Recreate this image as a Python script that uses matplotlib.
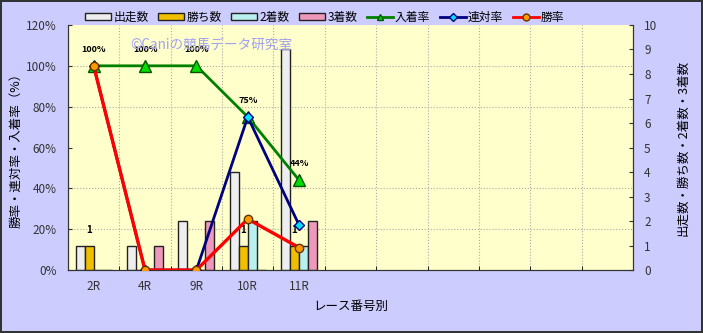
import numpy as np
import matplotlib.pyplot as plt
from matplotlib.patches import Patch
from matplotlib.lines import Line2D
from matplotlib.ticker import FixedLocator

plt.rcParams['font.family'] = ['Noto Sans CJK JP', 'DejaVu Sans']

# Data
races = ['2R', '4R', '9R', '10R', '11R']
n_slots = 11
starts = [1, 1, 2, 4, 9]      # 出走数
wins = [1, 0, 0, 1, 1]        # 勝ち数
seconds = [0, 0, 0, 2, 1]     # 2着数
thirds = [0, 1, 2, 0, 2]      # 3着数
place_rate = [100, 100, 100, 75, 44]   # 入着率
quinella_rate = [100, 0, 0, 75, 22]    # 連対率
win_rate = [100, 0, 0, 25, 11]         # 勝率

bg = '#CCCCFF'
fig = plt.figure(figsize=(7.03, 3.33), dpi=100, facecolor=bg,
                 edgecolor='#333333', linewidth=1.5)
axc = fig.add_axes([0.0967, 0.189, 0.8037, 0.736])
axp = axc.twinx()
axp.set_zorder(axc.get_zorder() + 1)
axp.patch.set_visible(False)
axc.set_facecolor('#FFFFCC')

x = np.arange(len(races))
w = 0.175
bar_specs = [
    (starts, '#EEEEEE', '出走数'),
    (wins, '#F0C000', '勝ち数'),
    (seconds, '#BBF0F0', '2着数'),
    (thirds, '#EE99BB', '3着数'),
]
for i, (vals, col, lab) in enumerate(bar_specs):
    axc.bar(x + (i - 1.5) * w, vals, width=w, color=col, edgecolor='#222222',
            linewidth=1.0, zorder=3, label=lab)

# labels above win bars
for xi, v in zip(x, wins):
    if v > 0:
        axc.text(xi - 0.5 * w, v + 0.45, str(v), ha='center', va='bottom',
                 fontsize=7, fontweight='bold')

axc.set_xlim(-0.5, n_slots - 0.5)
axc.set_ylim(0, 10)
axc.set_yticks(range(0, 11))
axc.yaxis.tick_right()
axc.yaxis.set_label_position('right')
axc.set_xticks(np.arange(n_slots))
axc.set_xticklabels(races + [''] * (n_slots - len(races)))
axc.xaxis.set_minor_locator(FixedLocator(np.arange(-0.5, n_slots, 1)))
axc.yaxis.set_minor_locator(FixedLocator(np.linspace(0, 10, 7)))
axc.grid(which='minor', color='#AAAAAA', linestyle=':', linewidth=0.8, zorder=0)
axc.set_axisbelow(True)
axc.tick_params(axis='x', which='major', length=0, pad=7)
axc.tick_params(axis='x', which='minor', length=3, direction='in')
axc.tick_params(axis='y', which='minor', length=0)
axc.tick_params(axis='y', which='major', direction='in', length=3, pad=8)
axc.tick_params(labelsize=8.5, labelcolor='#333333', colors='#333333')
axc.set_ylabel('出走数・勝ち数・2着数・3着数', fontsize=9, rotation=90, labelpad=14)
axc.set_xlabel('レース番号別', fontsize=9, labelpad=5)

# rate lines
axp.plot(x, place_rate, color='#008000', lw=2, marker='^', ms=8,
         mfc='#00DD00', mec='#005500', label='入着率', zorder=4)
axp.plot(x, quinella_rate, color='#000080', lw=2, marker='D', ms=5,
         mfc='#00E0FF', mec='#000080', label='連対率', zorder=5)
axp.plot(x, win_rate, color='#FF0000', lw=2.4, marker='o', ms=6,
         mfc='#FF9900', mec='#663300', label='勝率', zorder=6)
for xi, v in zip(x, place_rate):
    axp.text(xi, v + 6, f'{v}%', ha='center', va='bottom', fontsize=6.5,
             fontweight='bold')

axp.set_ylim(0, 120)
axp.set_yticks(range(0, 121, 20))
axp.set_yticklabels([f'{v}%' for v in range(0, 121, 20)])
axp.yaxis.tick_left()
axp.yaxis.set_label_position('left')
axp.tick_params(axis='y', direction='in', length=3, pad=8, labelsize=8.5,
                labelcolor='#333333', colors='#333333')
axp.set_ylabel('勝率・連対率・入着率（%）', fontsize=9, labelpad=3)

for a in (axc, axp):
    for s in a.spines.values():
        s.set_color('#333333')
    a.spines['top'].set_visible(False)

# watermark
fig.text(0.185, 0.865, '©Caniの競馬データ研究室', color='#A0A0F0', fontsize=9.8,
         va='center')

handles = [Patch(facecolor=c, edgecolor='#222222', label=l) for _, c, l in bar_specs]
handles += [
    Line2D([], [], color='#008000', lw=2, marker='^', ms=5, mfc='#00DD00', mec='#005500', label='入着率'),
    Line2D([], [], color='#000080', lw=2, marker='D', ms=4, mfc='#00E0FF', mec='#000080', label='連対率'),
    Line2D([], [], color='#FF0000', lw=2, marker='o', ms=5, mfc='#FF9900', mec='#663300', label='勝率'),
]
fig.legend(handles=handles, loc='center', bbox_to_anchor=(0.462, 0.948), ncol=7,
           frameon=False, fontsize=8.5, handlelength=2.2, handleheight=0.5,
           columnspacing=0.8, handletextpad=0.2)

fig.savefig('out.png', dpi=100, facecolor=bg, edgecolor='#333333')
